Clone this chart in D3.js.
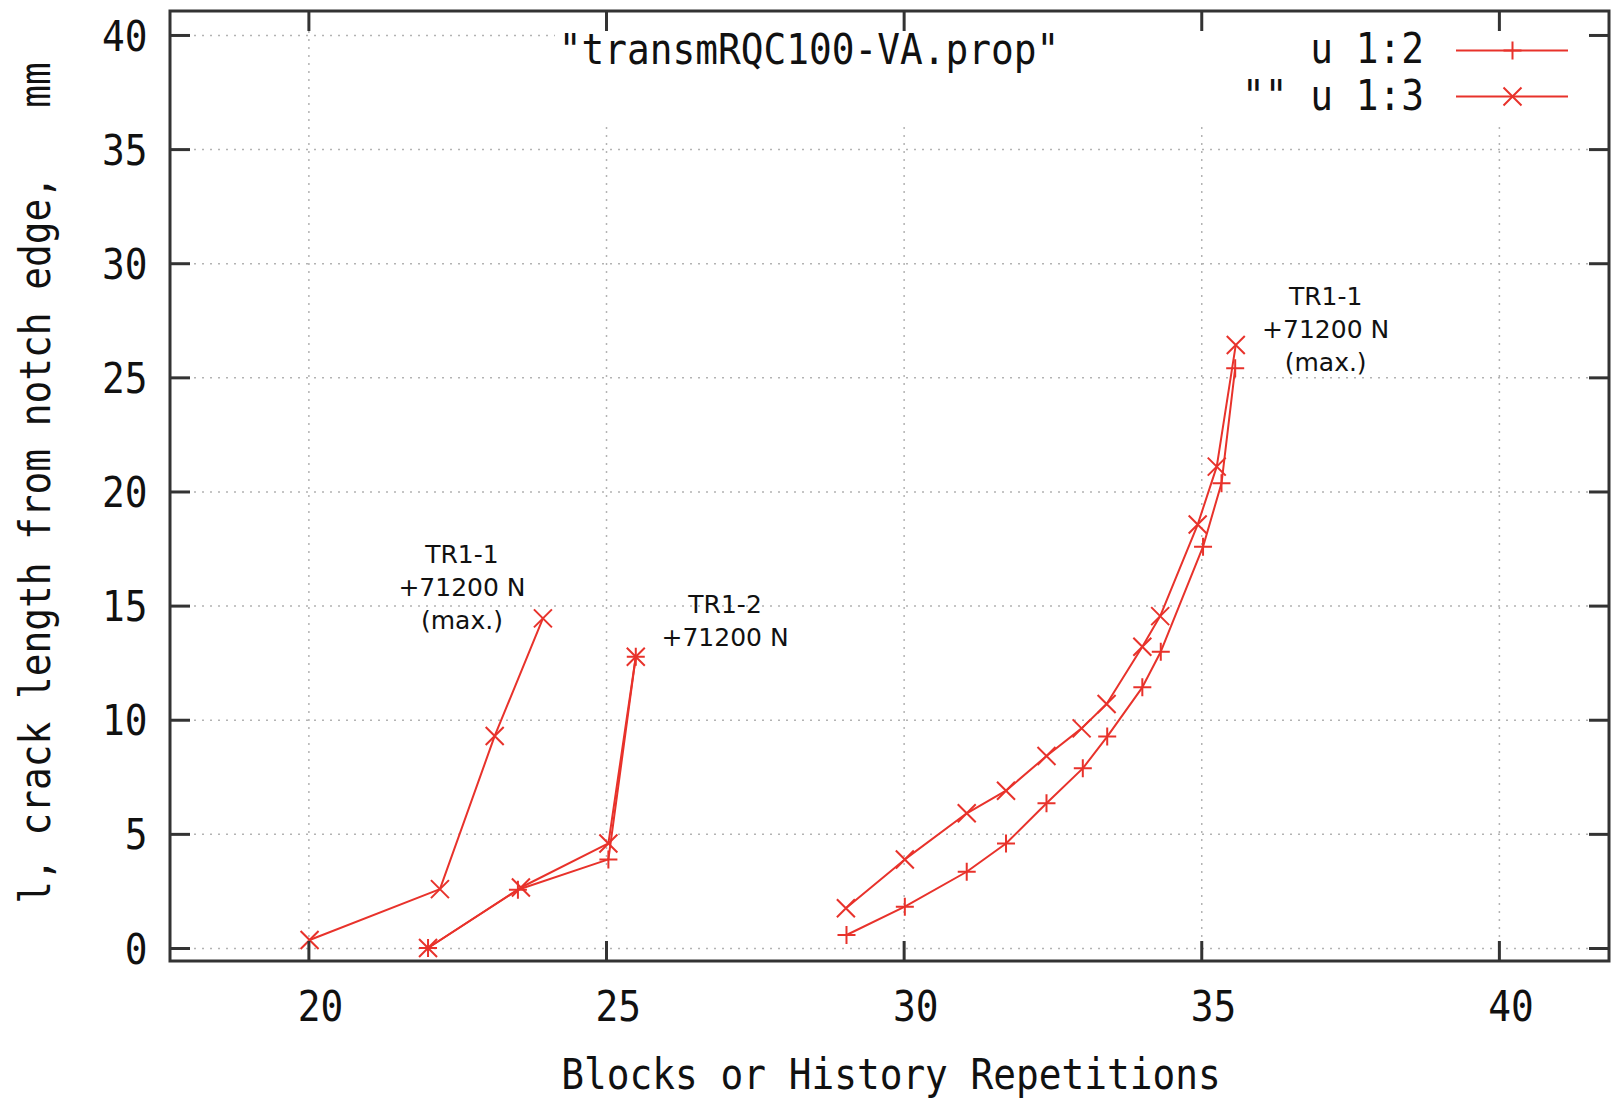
<!DOCTYPE html>
<html><head><meta charset="utf-8">
<script src="https://cdn.jsdelivr.net/npm/d3@7"></script>
<style>html,body{margin:0;padding:0;background:#fff;}</style>
</head><body>
<svg id="chart" width="1612" height="1098"></svg>
<script>
// ---------------- data ----------------
const xTicks = [20, 25, 30, 35, 40];
const yTicks = [0, 5, 10, 15, 20, 25, 30, 35, 40];

const seriesNames = ['u 1:2', '"" u 1:3'];

// "u 1:2" (plus markers), two segments
const u12_x_B = [22.01, 23.52, 25.04, 25.50];
const u12_y_B = [0.00, 2.55, 3.88, 12.76];
const u12_x_C = [29.04, 30.02, 31.06, 31.72, 32.40, 33.01, 33.42, 34.01, 34.32, 35.03, 35.34, 35.57];
const u12_y_C = [0.57, 1.81, 3.34, 4.58, 6.34, 7.87, 9.26, 11.42, 12.98, 17.58, 20.36, 25.40];

// "" u 1:3 (cross markers), three segments
const u13_x_A = [20.02, 22.21, 23.13, 23.94];
const u13_y_A = [0.35, 2.58, 9.29, 14.44];
const u13_x_B = [22.01, 23.57, 25.04, 25.50];
const u13_y_B = [0.00, 2.65, 4.58, 12.76];
const u13_x_C = [29.03, 30.02, 31.06, 31.72, 32.40, 32.99, 33.41, 34.01, 34.31, 34.94, 35.26, 35.58];
const u13_y_C = [1.74, 3.88, 5.90, 6.89, 8.41, 9.62, 10.69, 13.20, 14.54, 18.55, 21.09, 26.42];

const labelLinesA = ['TR1-1', '+71200 N', '(max.)'];
const labelLinesB = ['TR1-2', '+71200 N'];
const labelLinesC = ['TR1-1', '+71200 N', '(max.)'];
const labelAnchorA = [22.58, 15.82];
const labelAnchorB = [27.0, 14.36];
const labelAnchorC = [37.09, 27.14];

const keyTitle = '"transmRQC100-VA.prop"';
const xTitle = 'Blocks or History Repetitions';
const yTitle = 'l, crack length from notch edge,   mm';

// ---------------- layout ----------------
const pL = 170, pR = 1609, pT = 11, pB = 961;
const RED = '#e8322b';
const MONO = '"DejaVu Sans Mono", monospace';
const MONO_SIZE = 42;
const SX = 0.9;

const svg = d3.select('#chart');
svg.append('rect').attr('width', 1612).attr('height', 1098).attr('fill', '#fff');

const x = d3.scaleLinear().domain([17.675, 41.85]).range([pL, pR]);
const y = d3.scaleLinear().domain([-0.57, 41.05]).range([pB, pT]);

// grid
const gridStyle = g => {
  g.select('.domain').remove();
  g.selectAll('line').attr('stroke', '#b3b3b3').attr('stroke-width', 1.5).attr('stroke-dasharray', '2,6');
};
svg.append('g').attr('transform', `translate(0,${pB})`)
  .call(d3.axisBottom(x).tickValues(xTicks).tickSize(-(pB - pT)).tickFormat(''))
  .call(gridStyle);
svg.append('g').attr('transform', `translate(${pL},0)`)
  .call(d3.axisLeft(y).tickValues(yTicks).tickSize(-(pR - pL)).tickFormat(''))
  .call(gridStyle);

// data
const line = d3.line().x(d => x(d[0])).y(d => y(d[1]));
const zip = (xs, ys) => xs.map((v, i) => [v, ys[i]]);
const plusPath = 'M-9,0H9M0,-9V9';
const crossPath = 'M-9,-9L9,9M-9,9L9,-9';

function drawSeg(xs, ys, marker) {
  const pts = zip(xs, ys);
  svg.append('path').attr('d', line(pts)).attr('fill', 'none')
    .attr('stroke', RED).attr('stroke-width', 2).attr('stroke-linejoin', 'round');
  svg.append('g').selectAll('path').data(pts).join('path')
    .attr('d', marker)
    .attr('transform', d => `translate(${x(d[0])},${y(d[1])})`)
    .attr('stroke', RED).attr('stroke-width', 2).attr('fill', 'none');
}
drawSeg(u12_x_B, u12_y_B, plusPath);
drawSeg(u12_x_C, u12_y_C, plusPath);
drawSeg(u13_x_A, u13_y_A, crossPath);
drawSeg(u13_x_B, u13_y_B, crossPath);
drawSeg(u13_x_C, u13_y_C, crossPath);

// annotations
function drawLabel(lines, anchor) {
  const cx = x(anchor[0]), cy = y(anchor[1]);
  const lh = 33;
  lines.forEach((t, i) => {
    svg.append('text')
      .attr('x', cx)
      .attr('y', cy + (i - (lines.length - 1) / 2) * lh + 9.2)
      .attr('text-anchor', 'middle')
      .attr('font-family', '"DejaVu Sans", sans-serif')
      .attr('font-size', 25)
      .attr('fill', '#111')
      .text(t);
  });
}
drawLabel(labelLinesA, labelAnchorA);
drawLabel(labelLinesB, labelAnchorB);
drawLabel(labelLinesC, labelAnchorC);

// key (opaque box)
svg.append('rect').attr('x', 555).attr('y', pT + 1.5).attr('width', pR - 1.5 - 555).attr('height', 120 - pT)
  .attr('fill', '#fff');

function mono(px, py, str, anchor, rot) {
  return svg.append('text')
    .attr('transform', `translate(${px},${py})${rot ? ` rotate(${rot})` : ''} scale(${SX},1)`)
    .attr('text-anchor', anchor)
    .attr('font-family', MONO)
    .attr('font-size', MONO_SIZE)
    .attr('fill', '#111')
    .attr('xml:space', 'preserve')
    .style('white-space', 'pre')
    .text(str);
}
mono(809, 64, keyTitle, 'middle');
mono(1424, 63, seriesNames[0], 'end');
mono(1424, 110, seriesNames[1], 'end');
const keyRows = [{ yy: 50.5, m: plusPath }, { yy: 96.5, m: crossPath }];
keyRows.forEach(r => {
  svg.append('line').attr('x1', 1456).attr('x2', 1568).attr('y1', r.yy).attr('y2', r.yy)
    .attr('stroke', RED).attr('stroke-width', 2);
  svg.append('path').attr('d', r.m).attr('transform', `translate(1512.5,${r.yy})`)
    .attr('stroke', RED).attr('stroke-width', 2).attr('fill', 'none');
});

// axes (inward ticks, mirrored)
const tickStyle = g => {
  g.select('.domain').remove();
  g.selectAll('line').attr('stroke', '#333').attr('stroke-width', 3);
  g.attr('font-family', MONO).attr('font-size', MONO_SIZE).attr('color', '#111');
  g.selectAll('text').attr('transform', `scale(${SX},1)`).attr('fill', '#111');
};
const gx = svg.append('g').attr('transform', `translate(0,${pB})`)
  .call(d3.axisBottom(x).tickValues(xTicks).tickSizeInner(-20).tickSizeOuter(0).tickPadding(30).tickFormat(d3.format('d')))
  .call(tickStyle);
gx.selectAll('text').attr('x', 13);
svg.append('g').attr('transform', `translate(0,${pT})`)
  .call(d3.axisTop(x).tickValues(xTicks).tickSizeInner(-20).tickSizeOuter(0).tickFormat(''))
  .call(tickStyle);
const gy = svg.append('g').attr('transform', `translate(${pL},0)`)
  .call(d3.axisLeft(y).tickValues(yTicks).tickSizeInner(-20).tickSizeOuter(0).tickPadding(25).tickFormat(d3.format('d')))
  .call(tickStyle);
gy.selectAll('text').attr('dy', '0.36em');
svg.append('g').attr('transform', `translate(${pR},0)`)
  .call(d3.axisRight(y).tickValues(yTicks).tickSizeInner(-20).tickSizeOuter(0).tickFormat(''))
  .call(tickStyle);

// border
svg.append('rect').attr('x', pL).attr('y', pT).attr('width', pR - pL).attr('height', pB - pT)
  .attr('fill', 'none').attr('stroke', '#333').attr('stroke-width', 3);

// axis titles
mono(891, 1089, xTitle, 'middle');
mono(50, 483, yTitle, 'middle', -90);
</script>
</body></html>
